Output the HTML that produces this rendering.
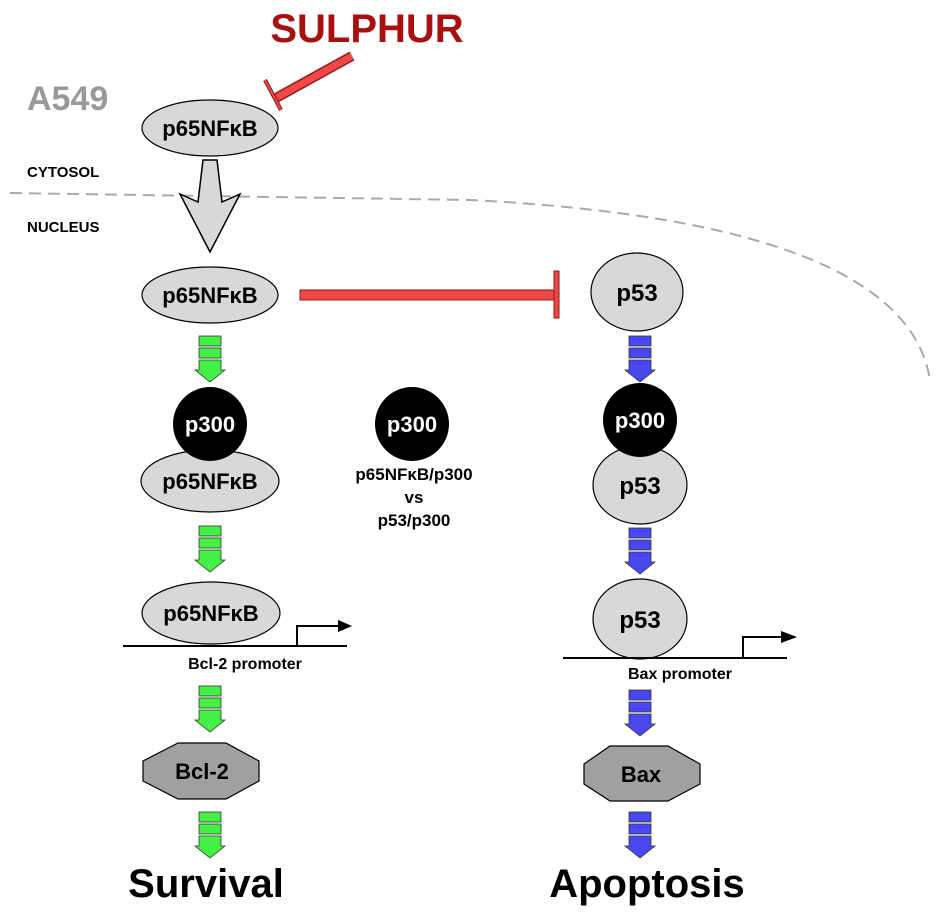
<!DOCTYPE html>
<html><head><meta charset="utf-8"><style>
html,body{margin:0;padding:0;background:#fff;}
svg{display:block;}
text{font-family:"Liberation Sans",sans-serif;font-weight:bold;}
</style></head><body>
<svg width="945" height="919" viewBox="0 0 945 919" xmlns="http://www.w3.org/2000/svg">
<defs>
<g id="ga">
<rect x="-11" y="0" width="22" height="10" stroke="#333" stroke-width="0.8"/>
<rect x="-11" y="12" width="22" height="10" stroke="#333" stroke-width="0.8"/>
<polygon points="-11,24 11,24 11,34 15,34 0,46 -15,34 -11,34" stroke="#333" stroke-width="0.8"/>
</g>
</defs>
<text x="367" y="42" font-size="40" fill="#a81010" text-anchor="middle">SULPHUR</text>
<line x1="352" y1="56" x2="276" y2="98" stroke="#8a1a1a" stroke-width="10"/>
<line x1="352" y1="56" x2="276" y2="98" stroke="#f04848" stroke-width="7"/>
<line x1="265" y1="80" x2="281" y2="110" stroke="#8a1a1a" stroke-width="4"/>
<line x1="265" y1="80" x2="281" y2="110" stroke="#f04848" stroke-width="2"/>
<text x="27" y="110" font-size="34" fill="#999">A549</text>
<text x="27" y="177" font-size="15" fill="#000">CYTOSOL</text>
<text x="27" y="232" font-size="15" fill="#000">NUCLEUS</text>
<path d="M10,193 L470,200 Q905,222 930,380" fill="none" stroke="#aaa" stroke-width="2" stroke-dasharray="12,7"/>
<ellipse cx="210" cy="128" rx="68" ry="28" fill="#d8d8d8" stroke="#000" stroke-width="1.2"/>
<text x="210" y="136" font-size="22" text-anchor="middle">p65NFκB</text>
<polygon points="203,160 217,160 222,202 240,194 210,252 180,194 198,202" fill="#d8d8d8" stroke="#000" stroke-width="1.5"/>
<ellipse cx="210" cy="295" rx="68" ry="28" fill="#d8d8d8" stroke="#000" stroke-width="1.2"/>
<text x="210" y="303" font-size="22" text-anchor="middle">p65NFκB</text>
<rect x="300" y="290" width="256" height="10" fill="#f04848" stroke="#8a1a1a" stroke-width="1"/>
<rect x="554" y="271" width="5" height="47" fill="#f04848" stroke="#8a1a1a" stroke-width="1"/>
<ellipse cx="637" cy="292" rx="46" ry="39" fill="#d8d8d8" stroke="#000" stroke-width="1.2"/>
<text x="637" y="301" font-size="24" text-anchor="middle">p53</text>
<g fill="#44f044"><use href="#ga" x="210" y="336"/><use href="#ga" x="210" y="526"/><use href="#ga" x="210" y="686"/><use href="#ga" x="210" y="812"/></g>
<g fill="#4848f0"><use href="#ga" x="640" y="336"/><use href="#ga" x="640" y="528"/><use href="#ga" x="640" y="690"/><use href="#ga" x="640" y="812"/></g>
<ellipse cx="210" cy="481" rx="69" ry="31" fill="#d8d8d8" stroke="#000" stroke-width="1.2"/>
<text x="210" y="489" font-size="22" text-anchor="middle">p65NFκB</text>
<circle cx="210" cy="424" r="37" fill="#000"/>
<text x="210" y="432" font-size="22" fill="#fff" text-anchor="middle">p300</text>
<circle cx="412" cy="424" r="37" fill="#000"/>
<text x="412" y="432" font-size="22" fill="#fff" text-anchor="middle">p300</text>
<text x="414" y="480" font-size="17" text-anchor="middle">p65NFκB/p300</text>
<text x="414" y="503" font-size="17" text-anchor="middle">vs</text>
<text x="414" y="526" font-size="17" text-anchor="middle">p53/p300</text>
<ellipse cx="640" cy="485" rx="47" ry="39" fill="#d8d8d8" stroke="#000" stroke-width="1.2"/>
<text x="640" y="494" font-size="24" text-anchor="middle">p53</text>
<circle cx="640" cy="420" r="37" fill="#000"/>
<text x="640" y="428" font-size="22" fill="#fff" text-anchor="middle">p300</text>
<ellipse cx="211" cy="613" rx="69" ry="31" fill="#d8d8d8" stroke="#000" stroke-width="1.2"/>
<text x="211" y="621" font-size="22" text-anchor="middle">p65NFκB</text>
<line x1="123" y1="646" x2="347" y2="646" stroke="#000" stroke-width="2"/>
<polyline points="297,646 297,626 340,626" fill="none" stroke="#000" stroke-width="2"/>
<polygon points="338,620 352,626 338,632" fill="#000"/>
<text x="245" y="669" font-size="16" text-anchor="middle">Bcl-2 promoter</text>
<ellipse cx="640" cy="619" rx="47" ry="40" fill="#d8d8d8" stroke="#000" stroke-width="1.2"/>
<text x="640" y="628" font-size="24" text-anchor="middle">p53</text>
<line x1="563" y1="658" x2="787" y2="658" stroke="#000" stroke-width="2"/>
<polyline points="743,658 743,637 783,637" fill="none" stroke="#000" stroke-width="2"/>
<polygon points="781,631 797,637 781,643" fill="#000"/>
<text x="680" y="679" font-size="16" text-anchor="middle">Bax promoter</text>
<polygon points="178,743 226,743 259,761 259,781 226,799 178,799 143,781 143,761" fill="#a0a0a0" stroke="#000" stroke-width="1.2"/>
<text x="202" y="779" font-size="22" text-anchor="middle">Bcl-2</text>
<polygon points="610,746 668,746 700,764 700,784 668,801 610,801 584,784 584,764" fill="#a0a0a0" stroke="#000" stroke-width="1.2"/>
<text x="641" y="782" font-size="22" text-anchor="middle">Bax</text>
<text x="206" y="897" font-size="40" text-anchor="middle">Survival</text>
<text x="647" y="897" font-size="40" text-anchor="middle">Apoptosis</text>
</svg>
</body></html>
